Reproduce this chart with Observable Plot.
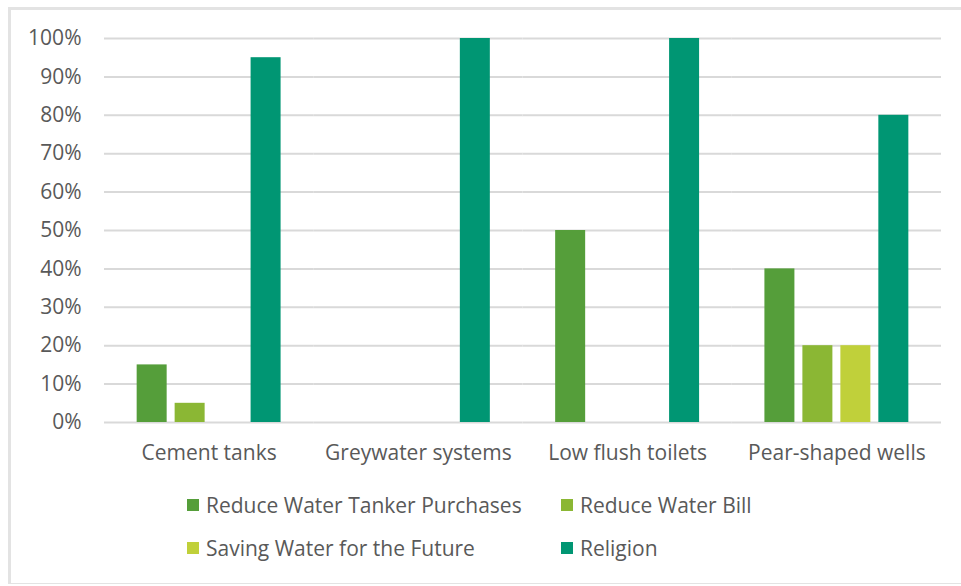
<!DOCTYPE html>
<html>
<head>
<meta charset="utf-8">
<script src="https://cdn.jsdelivr.net/npm/d3@7"></script>
<script src="https://cdn.jsdelivr.net/npm/@observablehq/plot@0.6"></script>
<style>
  html, body { margin: 0; padding: 0; background: #fff; }
  #wrap { position: relative; width: 961px; height: 586px; overflow: hidden; font-family: "Open Sans", sans-serif; }
  #frame { position: absolute; left: 8px; top: 7px; width: 960px; height: 577px; border-left: 3px solid #e3e3e3; border-top: 3px solid #e3e3e3; border-bottom: 1px solid #e3e3e3; box-sizing: border-box; }
  #chart { position: absolute; left: 0; top: 0; }
  .leg { position: absolute; display: flex; align-items: center; font-size: 21px; color: #595959; white-space: nowrap; }
  .sw { width: 12px; height: 12px; margin-right: 7px; }
</style>
</head>
<body>
<div id="wrap">
  <div id="frame"></div>
  <div id="chart"></div>
  <div id="legend"></div>
</div>
<script>
const categories = ["Cement tanks", "Greywater systems", "Low flush toilets", "Pear-shaped wells"];
const seriesNames = ["Reduce Water Tanker Purchases", "Reduce Water Bill", "Saving Water for the Future", "Religion"];
const seriesColors = ["#559e3a", "#8bb734", "#c0d03a", "#009673"];
const tankerPurchases = [15, 0, 50, 40];
const waterBill = [5, 0, 0, 20];
const savingFuture = [0, 0, 0, 20];
const religion = [95, 100, 100, 80];
const yTicks = [0, 10, 20, 30, 40, 50, 60, 70, 80, 90, 100];

const seriesValues = [tankerPurchases, waterBill, savingFuture, religion];
const data = [];
categories.forEach((c, i) => {
  seriesNames.forEach((s, j) => data.push({cat: c, series: s, value: seriesValues[j][i]}));
});

const textColor = "#595959";
const chart = Plot.plot({
  width: 961,
  height: 480,
  marginTop: 38,
  marginBottom: 58,
  marginLeft: 104,
  marginRight: 20,
  style: {fontFamily: "Open Sans, sans-serif", fontSize: "21px", color: textColor, background: "transparent"},
  fx: {domain: categories, padding: 0, round: false, label: null},
  x: {domain: seriesNames, paddingInner: 0.21, paddingOuter: 0.86, round: false, axis: null},
  y: {domain: [0, 100], label: null},
  color: {domain: seriesNames, range: seriesColors},
  marks: [
    Plot.ruleY(yTicks, {stroke: "#d9d9d9", strokeWidth: 2}),
    Plot.barY(data, {fx: "cat", x: "series", y: "value", fill: "series", filter: d => d.value > 0}),
    Plot.axisY(yTicks, {tickSize: 0, tickPadding: 23, tickFormat: d => d + "%", fontSize: 21, fill: textColor, facetAnchor: "left"}),
    Plot.axisFx({anchor: "bottom", tickSize: 0, tickPadding: 23, fontSize: 21, fill: textColor, label: null})
  ]
});
document.getElementById("chart").appendChild(chart);

const legendPos = [[187, 505], [561, 505], [187, 548], [561, 548]];
const legend = document.getElementById("legend");
seriesNames.forEach((s, i) => {
  const el = document.createElement("div");
  el.className = "leg";
  el.style.left = legendPos[i][0] + "px";
  el.style.top = (legendPos[i][1] - 14) + "px";
  el.style.height = "28px";
  el.innerHTML = `<span class="sw" style="background:${seriesColors[i]}"></span><span>${s}</span>`;
  legend.appendChild(el);
});
</script>
</body>
</html>
